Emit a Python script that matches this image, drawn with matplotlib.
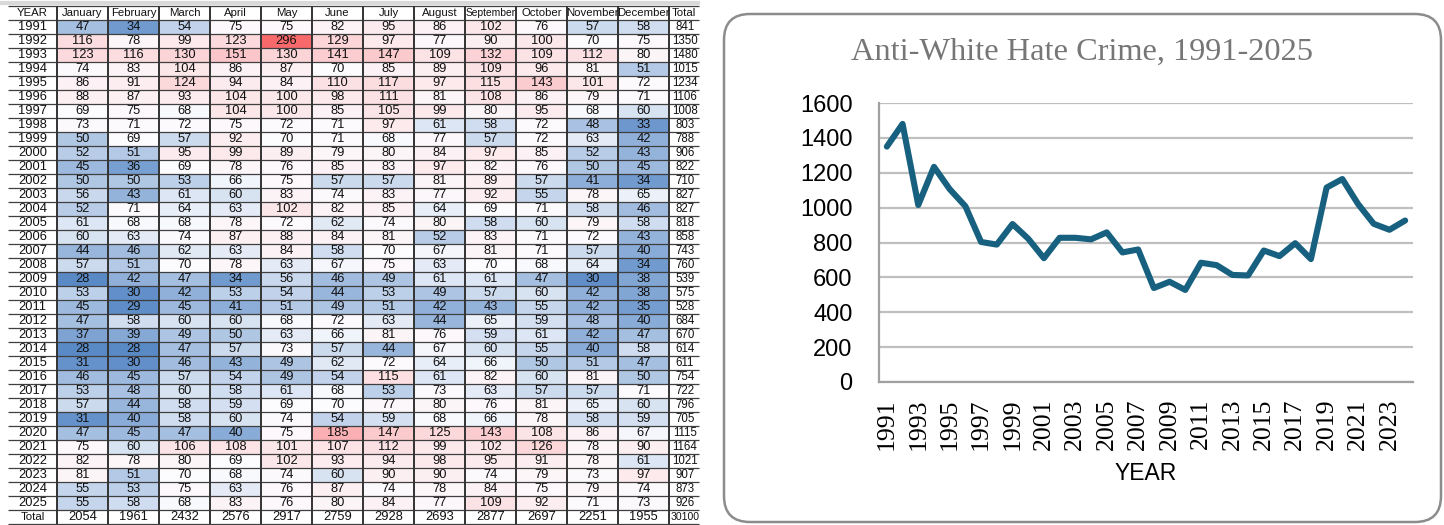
#!/usr/bin/env python3
"""
Anti-white hate crime counts: monthly table with a blue-white-red colour
scale on the left, yearly totals as a line chart on the right.

Output: out.png (1444x525)
"""

import matplotlib

matplotlib.use("Agg")  # headless
import matplotlib.pyplot as plt
import numpy as np
from matplotlib import font_manager
from matplotlib.colors import LinearSegmentedColormap, TwoSlopeNorm
from matplotlib.patches import FancyBboxPatch


MONTHS = ["January", "February", "March", "April", "May", "June", "July",
          "August", "September", "October", "November", "December"]

YEARS = [1991, 1992, 1993, 1994, 1995, 1996, 1997, 1998, 1999, 2000,
         2001, 2002, 2003, 2004, 2005, 2006, 2007, 2008, 2009, 2010,
         2011, 2012, 2013, 2014, 2015, 2016, 2017, 2018, 2019, 2020,
         2021, 2022, 2023, 2024, 2025]

# one row per year, Jan..Dec
COUNTS = [
    [47, 34, 54, 75, 75, 82, 95, 86, 102, 76, 57, 58],
    [116, 78, 99, 123, 296, 129, 97, 77, 90, 100, 70, 75],
    [123, 116, 130, 151, 130, 141, 147, 109, 132, 109, 112, 80],
    [74, 83, 104, 86, 87, 70, 85, 89, 109, 96, 81, 51],
    [86, 91, 124, 94, 84, 110, 117, 97, 115, 143, 101, 72],
    [88, 87, 93, 104, 100, 98, 111, 81, 108, 86, 79, 71],
    [69, 75, 68, 104, 100, 85, 105, 99, 80, 95, 68, 60],
    [73, 71, 72, 75, 72, 71, 97, 61, 58, 72, 48, 33],
    [50, 69, 57, 92, 70, 71, 68, 77, 57, 72, 63, 42],
    [52, 51, 95, 99, 89, 79, 80, 84, 97, 85, 52, 43],
    [45, 36, 69, 78, 76, 85, 83, 97, 82, 76, 50, 45],
    [50, 50, 53, 66, 75, 57, 57, 81, 89, 57, 41, 34],
    [56, 43, 61, 60, 83, 74, 83, 77, 92, 55, 78, 65],
    [52, 71, 64, 63, 102, 82, 85, 64, 69, 71, 58, 46],
    [61, 68, 68, 78, 72, 62, 74, 80, 58, 60, 79, 58],
    [60, 63, 74, 87, 88, 84, 81, 52, 83, 71, 72, 43],
    [44, 46, 62, 63, 84, 58, 70, 67, 81, 71, 57, 40],
    [57, 51, 70, 78, 63, 67, 75, 63, 70, 68, 64, 34],
    [28, 42, 47, 34, 56, 46, 49, 61, 61, 47, 30, 38],
    [53, 30, 42, 53, 54, 44, 53, 49, 57, 60, 42, 38],
    [45, 29, 45, 41, 51, 49, 51, 42, 43, 55, 42, 35],
    [47, 58, 60, 60, 68, 72, 63, 44, 65, 59, 48, 40],
    [37, 39, 49, 50, 63, 66, 81, 76, 59, 61, 42, 47],
    [28, 28, 47, 57, 73, 57, 44, 67, 60, 55, 40, 58],
    [31, 30, 46, 43, 49, 62, 72, 64, 66, 50, 51, 47],
    [46, 45, 57, 54, 49, 54, 115, 61, 82, 60, 81, 50],
    [53, 48, 60, 58, 61, 68, 53, 73, 63, 57, 57, 71],
    [57, 44, 58, 59, 69, 70, 77, 80, 76, 81, 65, 60],
    [31, 40, 58, 60, 74, 54, 59, 68, 66, 78, 58, 59],
    [47, 45, 47, 40, 75, 185, 147, 125, 143, 108, 86, 67],
    [75, 60, 106, 108, 101, 107, 112, 99, 102, 126, 78, 90],
    [82, 78, 80, 69, 102, 93, 94, 98, 95, 91, 78, 61],
    [81, 51, 70, 68, 74, 60, 90, 90, 74, 79, 73, 97],
    [55, 53, 75, 63, 76, 87, 74, 78, 84, 75, 79, 74],
    [55, 58, 68, 83, 76, 80, 84, 77, 109, 92, 71, 73],
]

YEAR_TOTALS = [841, 1350, 1480, 1015, 1234, 1106, 1008, 803, 788, 906,
               822, 710, 827, 827, 818, 858, 743, 760, 539, 575,
               528, 684, 670, 614, 611, 754, 722, 796, 705, 1115,
               1164, 1021, 907, 873, 926]
MONTH_TOTALS = [2054, 1961, 2432, 2576, 2917, 2759, 2928, 2693, 2877, 2697, 2251, 1955]
GRAND_TOTAL = 30100

# The line chart in the source labels its axis 1991..2024 while the plotted
# totals are those of 1992..2025; kept that way on purpose.
LINE_LABELS = YEARS[:-1]
LINE_VALUES = YEAR_TOTALS[1:]

W, H = 1444, 525

SANS = ["Liberation Sans", "DejaVu Sans"]
SERIF = ["Liberation Serif", "DejaVu Serif"]


def has_narrow() -> bool:
    names = {f.name for f in font_manager.fontManager.ttflist}
    return "Liberation Sans Narrow" in names


def draw_table(fig, narrow_ok):
    tab = fig.add_axes([0, 0, 700 / W, 1])
    tab.set_xlim(0, 700)
    tab.set_ylim(H, 0)  # pixel units, y down
    tab.axis("off")

    # column / row edges (px): YEAR, 12 months, Total
    col_edges = [8] + [57 + 51 * k for k in range(13)] + [699]
    row_edges = [6 + 14 * i for i in range(len(YEARS) + 3)]

    vals = np.array(COUNTS, dtype=float)
    # Excel "Blue - White - Red" 3-colour scale: min / 50th pct / max
    cmap = LinearSegmentedColormap.from_list("bwr_xl", ["#5A8AC6", "#FCFCFF", "#F8696B"])
    norm = TwoSlopeNorm(vmin=vals.min(), vcenter=np.percentile(vals, 50), vmax=vals.max())
    tab.pcolormesh(col_edges[1:14], row_edges[1:len(YEARS) + 2], vals,
                   cmap=cmap, norm=norm, shading="flat")

    # grid
    tab.hlines(3, 0, 700, color="#D9D9D9", lw=3)
    tab.hlines(row_edges, col_edges[0], col_edges[-1], color="#3F3F3F", lw=0.9)
    tab.vlines(col_edges[1:-1], row_edges[0], row_edges[-1], color="#333333", lw=1.4)

    centers_x = [(a + b) / 2 for a, b in zip(col_edges[:-1], col_edges[1:])]
    centers_y = [(a + b) / 2 for a, b in zip(row_edges[:-1], row_edges[1:])]

    if narrow_ok:
        head_fam, head_size = ["Liberation Sans Narrow"] + SANS, 9.5
    else:
        head_fam, head_size = SANS, 8.2
    header = ["YEAR"] + MONTHS + ["Total"]
    for cx, txt in zip(centers_x, header):
        size = head_size
        if not narrow_ok and len(txt) > 8:
            size = 7.4
        tab.text(cx, centers_y[0] + 0.5, txt, ha="center", va="center",
                 fontsize=size, family=head_fam, color="#111111")

    rows = [[str(y)] + [str(v) for v in r] + [str(t)]
            for y, r, t in zip(YEARS, COUNTS, YEAR_TOTALS)]
    rows.append(["Total"] + [str(v) for v in MONTH_TOTALS] + [str(GRAND_TOTAL)])
    last = len(rows) - 1
    for i, (cy, row) in enumerate(zip(centers_y[1:], rows)):
        for j, (cx, txt) in enumerate(zip(centers_x, row)):
            size = 9.3
            if j == len(row) - 1:
                # Total column is narrow
                size = 7.6 if len(txt) > 4 else 8.3
                cx += 1
            if i == last and j == 0:
                fam, size = head_fam, head_size
            else:
                fam = SANS
            tab.text(cx, cy + 0.5, txt, ha="center", va="center",
                     fontsize=size, family=fam, color="#111111")


def draw_chart(fig, narrow_ok):
    # rounded frame around the chart
    over = fig.add_axes([0, 0, 1, 1])
    over.set_xlim(0, W)
    over.set_ylim(H, 0)
    over.axis("off")
    over.add_patch(FancyBboxPatch((724, 14), 717, 508,
                                  boxstyle="round,pad=0,rounding_size=26",
                                  fc="none", ec="#8C8C8C", lw=1.8))

    fig.text(1082 / W, 1 - 52 / H, "Anti-White Hate Crime, 1991-2025",
             ha="center", va="center", fontsize=23.3, color="#767676", family=SERIF)

    ax = fig.add_axes([879 / W, 1 - 382 / H, 534 / W, 279 / H])
    ax.set_facecolor("none")
    x = np.arange(len(LINE_VALUES))
    ax.plot(x, LINE_VALUES, color="#17607F", lw=4.4,
            solid_joinstyle="round", solid_capstyle="round", zorder=3)

    ax.set_xlim(-0.5, len(LINE_VALUES) - 0.5)
    ax.set_ylim(0, 1600)
    ax.set_yticks(range(0, 1601, 200))
    ax.set_xticks(x[::2])
    ax.set_xticklabels([str(v) for v in LINE_LABELS[::2]], rotation=90,
                       family=SERIF, fontsize=18.5)
    for lab in ax.get_yticklabels():
        lab.set_family(SANS)
        lab.set_fontsize(17)
    ax.tick_params(axis="both", length=0)
    ax.tick_params(axis="y", pad=19)
    ax.tick_params(axis="x", pad=12)
    ax.grid(axis="y", color="#BFBFBF", lw=1.6)
    ax.set_axisbelow(True)

    for side in ("top", "right"):
        ax.spines[side].set_visible(False)
    for side in ("left", "bottom"):
        ax.spines[side].set_color("#A0A0A0")
        ax.spines[side].set_linewidth(1.6)

    if narrow_ok:
        fam, size = ["Liberation Sans Narrow"] + SANS, 19
    else:
        fam, size = SANS, 16.5
    fig.text(1146 / W, 1 - 474 / H, "YEAR", ha="center", va="center",
             fontsize=size, family=fam)


def main() -> int:
    narrow_ok = has_narrow()
    fig = plt.figure(figsize=(W / 100, H / 100), dpi=100)
    fig.patch.set_facecolor("white")
    draw_table(fig, narrow_ok)
    draw_chart(fig, narrow_ok)
    fig.savefig("out.png", dpi=100)
    plt.close(fig)
    return 0


if __name__ == "__main__":
    raise SystemExit(main())
